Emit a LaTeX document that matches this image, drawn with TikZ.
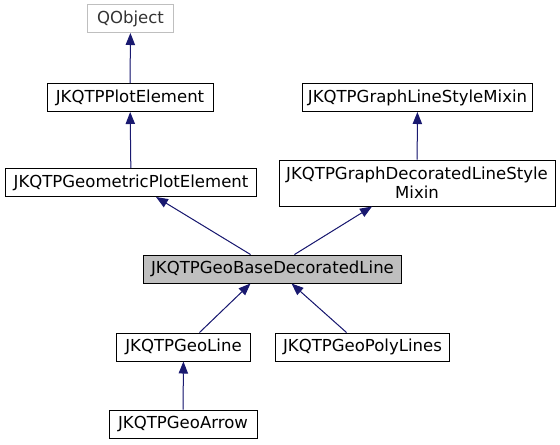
\documentclass[tikz,border=0pt]{standalone}
\usepackage{fontspec}
\setmainfont{DejaVu Sans}
\usetikzlibrary{arrows.meta,calc}
\definecolor{edgeblue}{HTML}{191970}
\definecolor{greyfill}{HTML}{BFBFBF}

\begin{document}
\begin{tikzpicture}[
  x=0.75pt, y=-0.75pt,
  cls/.style={draw, line width=0.75pt, align=center, inner sep=0pt, minimum height=21pt, font=\fontsize{12.4pt}{14pt}\selectfont},
  inh/.style={{Triangle[length=9pt, width=7pt]}-, draw=edgeblue, fill=edgeblue, line width=0.75pt}
]
  \useasboundingbox (0,0) rectangle (560,444);
  % classes
  \node[cls, draw=greyfill, text=black!80, minimum width=65pt] (qobj) at (130.5,18.5) {QObject};
  \node[cls, minimum width=124.5pt] (plot) at (130,97.5) {JKQTPPlotElement};
  \node[cls, minimum width=173pt] (lsmix) at (417.5,97.5) {JKQTPGraphLineStyleMixin};
  \node[cls, minimum width=188pt] (geom) at (131,182.5) {JKQTPGeometricPlotElement};
  \node[cls, minimum width=207pt, minimum height=34.5pt] (dlsmix) at (417,183) {JKQTPGraphDecoratedLineStyle\\Mixin};
  \node[cls, fill=greyfill, minimum width=194pt] (base) at (272.5,269) {JKQTPGeoBaseDecoratedLine};
  \node[cls, minimum width=101pt] (line) at (183.5,347) {JKQTPGeoLine};
  \node[cls, minimum width=131pt] (poly) at (362.5,347) {JKQTPGeoPolyLines};
  \node[cls, minimum width=111pt] (arrow) at (183,424) {JKQTPGeoArrow};
  % inheritance
  \draw[inh] (qobj) -- (plot);
  \draw[inh] (plot) -- (geom);
  \draw[inh] (lsmix) -- (dlsmix);
  \draw[inh] ($(geom.south)+(25,0)$) -- ($(base.north)+(-22,0)$);
  \draw[inh] ($(dlsmix.south)+(-45,0)$) -- ($(base.north)+(22,0)$);
  \draw[inh] ($(base.south)+(-22,0)$) -- ($(line.north)+(16,0)$);
  \draw[inh] ($(base.south)+(19,0)$) -- ($(poly.north)+(-16,0)$);
  \draw[inh] (line) -- (arrow);
\end{tikzpicture}
\end{document}
